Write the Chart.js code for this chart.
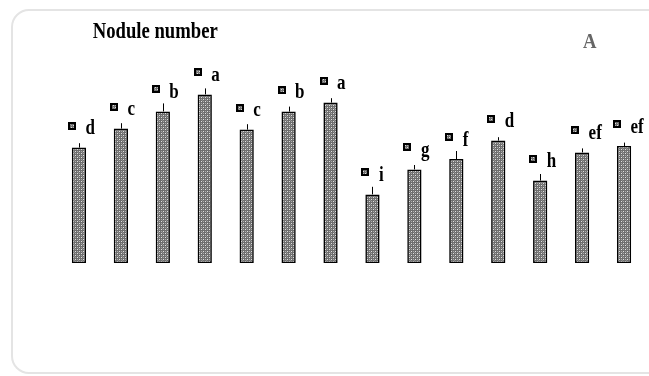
<!DOCTYPE html>
<html><head><meta charset="utf-8">
<script src="https://cdn.jsdelivr.net/npm/chart.js@4"></script>
<style>
html,body{margin:0;padding:0;background:#fff;overflow:hidden;width:649px;height:376px;}
#panel{position:absolute;left:11px;top:9px;width:690px;height:365px;border:2px solid #e4e4e4;border-radius:18px;box-sizing:border-box;}
#wrap{position:absolute;left:0;top:0;width:649px;height:376px;}
</style></head><body>
<div id="panel"></div>
<div id="wrap"><canvas id="c" width="649" height="376"></canvas></div>
<script>
const categories = ['T1','T2','T3','T4','T5','T6','T7','T8','T9','T10','T11','T12','T13','T14'];
const noduleValues = [57.7, 67.2, 75.8, 84.3, 66.7, 75.7, 80.2, 34.3, 46.8, 52.0, 61.2, 41.2, 55.3, 58.5];
const errorValues = [2.2, 2.7, 4.0, 3.0, 2.7, 2.5, 2.2, 3.8, 2.2, 4.0, 1.7, 3.3, 2.0, 1.7];
const significanceLetters = ['d','c','b','a','c','b','a','i','g','f','d','h','ef','ef'];
const chartTitle = 'Nodule number';
const panelLabel = 'A';

function makePattern() {
  const p = document.createElement('canvas');
  p.width = 4; p.height = 4;
  const g = p.getContext('2d');
  g.fillStyle = '#6e6e6e'; g.fillRect(0,0,4,4);
  g.fillStyle = '#e0e0e0'; g.fillRect(1,1,1,1); g.fillRect(3,3,1,1);
  g.fillStyle = '#aaaaaa'; g.fillRect(3,1,1,1); g.fillRect(1,3,1,1);
  g.fillStyle = '#8c8c8c'; g.fillRect(2,0,1,1);
  return g.createPattern(p, 'repeat');
}
const ctx0 = document.getElementById('c').getContext('2d');
const barPattern = makePattern();

const annotatePlugin = {
  id: 'annotate',
  afterDatasetsDraw(chart) {
    const ctx = chart.ctx;
    const meta = chart.getDatasetMeta(0);
    const ys = chart.scales.y;
    ctx.save();
    meta.data.forEach((bar, i) => {
      const x = bar.x, top = bar.y;
      const yErr = ys.getPixelForValue(noduleValues[i] + errorValues[i]);
      ctx.strokeStyle = '#000'; ctx.lineWidth = 1;
      ctx.beginPath(); ctx.moveTo(Math.round(x) + 0.5, yErr); ctx.lineTo(Math.round(x) + 0.5, top); ctx.stroke();
      const sx = Math.round(x - 11), sy = Math.round(top - 26);
      ctx.fillStyle = '#000'; ctx.fillRect(sx, sy, 8, 8);
      ctx.fillStyle = barPattern; ctx.fillRect(sx + 2, sy + 2, 4, 4);
      ctx.save();
      ctx.translate(x + 6.5, top - 13.5);
      ctx.scale(0.85, 1);
      ctx.fillStyle = '#000';
      ctx.font = 'bold 20px "Liberation Serif"';
      ctx.textAlign = 'left'; ctx.textBaseline = 'alphabetic';
      ctx.fillText(significanceLetters[i], 0, 0);
      ctx.restore();
    });
    ctx.font = 'bold 23px "Liberation Serif"';
    const w = ctx.measureText(chartTitle).width;
    ctx.save();
    ctx.translate(92.7, 38.3);
    ctx.scale(125 / w, 1);
    ctx.fillStyle = '#000';
    ctx.textAlign = 'left'; ctx.textBaseline = 'alphabetic';
    ctx.fillText(chartTitle, 0, 0);
    ctx.restore();
    ctx.save();
    ctx.translate(583, 48);
    ctx.scale(0.85, 1);
    ctx.font = 'bold 22px "Liberation Serif"';
    ctx.fillStyle = '#666';
    ctx.textAlign = 'left'; ctx.textBaseline = 'alphabetic';
    ctx.fillText(panelLabel, 0, 0);
    ctx.restore();
    ctx.restore();
  }
};

new Chart(ctx0, {
  type: 'bar',
  data: {
    labels: categories,
    datasets: [{
      data: noduleValues,
      backgroundColor: barPattern,
      borderColor: '#000',
      borderWidth: 1.6,
      borderSkipped: false,
      barPercentage: 0.34,
      categoryPercentage: 1
    }]
  },
  options: {
    responsive: false,
    animation: false,
    devicePixelRatio: 1,
    layout: { padding: { left: 58, right: 4, top: 63, bottom: 113 } },
    plugins: { legend: { display: false }, tooltip: { enabled: false }, title: { display: false } },
    scales: {
      x: { display: false, offset: true },
      y: { display: false, min: 0, max: 100 }
    }
  },
  plugins: [annotatePlugin]
});
</script>
</body></html>
